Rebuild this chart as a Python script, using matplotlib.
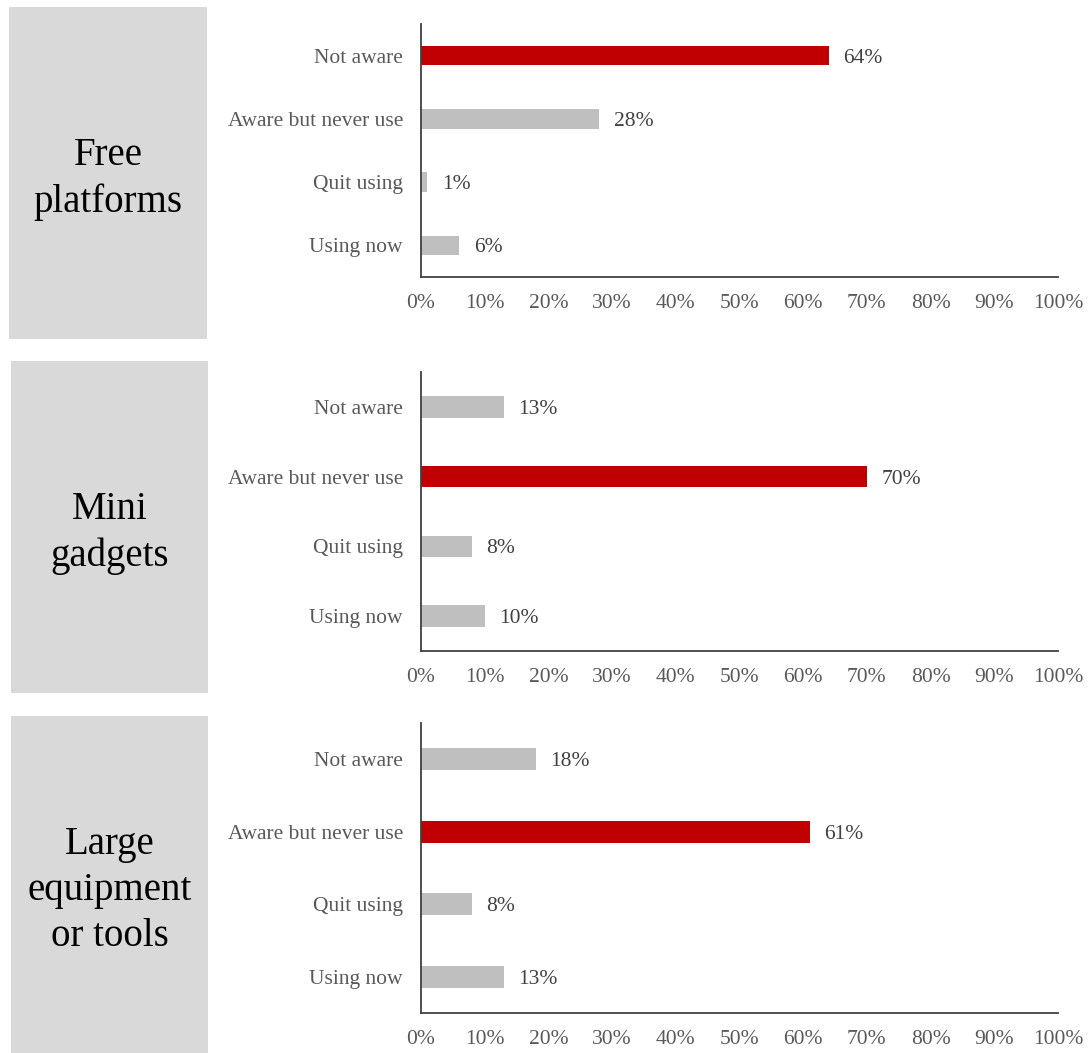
import matplotlib
matplotlib.use("Agg")
import matplotlib.pyplot as plt
from matplotlib.patches import Rectangle
from matplotlib.ticker import PercentFormatter

plt.rcParams["font.family"] = ["Liberation Serif", "DejaVu Serif"]

categories = ["Not aware", "Aware but never use", "Quit using", "Using now"]
panel_titles = ["Free\nplatforms", "Mini\ngadgets", "Large\nequipment\nor tools"]
free_platforms = [64, 28, 1, 6]
mini_gadgets = [13, 70, 8, 10]
large_equipment = [18, 61, 8, 13]
xticks = list(range(0, 101, 10))

RED = "#C00000"
GREY = "#BFBFBF"
BOX = "#D9D9D9"
TXT = "#595959"
FS = 15.5

W, H = 1088, 1053
fig = plt.figure(figsize=(W / 100, H / 100), dpi=100)

# (box x0, box y0, box x1, box y1, axes top, axes bottom) in pixels from top-left
layout = [
    (9, 7, 207, 339, 24, 277),
    (11, 361, 208, 693, 372, 651),
    (11, 716, 208, 1053, 723, 1013),
]
series = [free_platforms, mini_gadgets, large_equipment]

ax_left, ax_right = 421, 1058

for (bx0, by0, bx1, by1, at, ab), vals, title in zip(layout, series, panel_titles):
    # grey title block
    fig.patches.append(Rectangle((bx0 / W, 1 - by1 / H), (bx1 - bx0) / W, (by1 - by0) / H,
                                 transform=fig.transFigure, facecolor=BOX, edgecolor="none",
                                 zorder=0))
    fig.text((bx0 + bx1) / 2 / W, 1 - ((by0 + by1) / 2 + 6) / H, title, ha="center",
             va="center", fontsize=28, color="black", linespacing=1.32)

    ax = fig.add_axes([ax_left / W, 1 - ab / H, (ax_right - ax_left) / W, (ab - at) / H])
    y = list(range(len(categories)))
    top = max(vals)
    colors = [RED if v == top else GREY for v in vals]
    ax.barh(y, vals, height=0.31, color=colors)
    for yi, v in zip(y, vals):
        ax.text(v + 2.3, yi, f"{v}%", va="center_baseline", ha="left", fontsize=FS,
                color="#404040")
    ax.set_ylim(len(categories) - 0.5, -0.5)
    ax.set_xlim(0, 100)
    ax.set_yticks(y)
    ax.set_yticklabels(categories, fontsize=FS, color=TXT)
    ax.set_xticks(xticks)
    ax.xaxis.set_major_formatter(PercentFormatter(decimals=0))
    ax.tick_params(axis="x", length=0, pad=12, labelsize=FS, labelcolor=TXT)
    ax.tick_params(axis="y", length=0, pad=13)
    for s in ("top", "right"):
        ax.spines[s].set_visible(False)
    for s in ("left", "bottom"):
        ax.spines[s].set_color("#404040")
        ax.spines[s].set_linewidth(1.3)

fig.savefig("out.png", dpi=100, facecolor="white")
